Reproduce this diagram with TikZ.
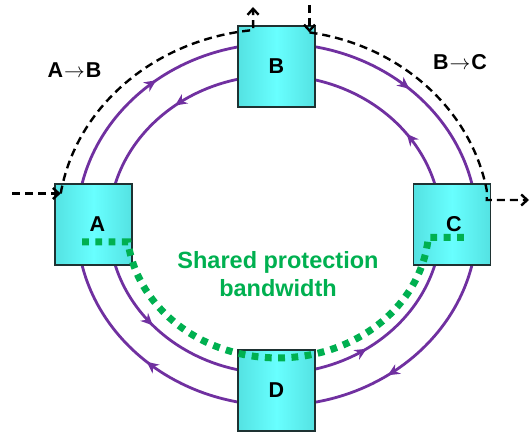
\documentclass[tikz,border=0pt]{standalone}
\usepackage{fontspec}
\setmainfont{Liberation Sans}
\usetikzlibrary{arrows.meta,decorations.markings}

\definecolor{ringpurple}{RGB}{112,48,160}
\definecolor{sharegreen}{RGB}{0,176,80}
\definecolor{boxedge}{RGB}{84,226,226}
\definecolor{boxmid}{RGB}{104,255,255}
\definecolor{boxline}{RGB}{30,50,50}

\tikzset{
  nodebox/.style={draw=boxline, line width=1.3pt, left color=boxedge, right color=boxedge,
    middle color=boxmid, minimum width=77pt, minimum height=81pt, inner sep=0pt,
    font=\fontsize{21.5}{24}\selectfont\bfseries},
  ring/.style={color=ringpurple, line width=2.8pt},
  flow/.style n args={4}{postaction={decorate}, decoration={markings,
    mark=at position #1 with {\arrow{Stealth[length=12pt,width=11pt]}},
    mark=at position #2 with {\arrow{Stealth[length=12pt,width=11pt]}},
    mark=at position #3 with {\arrow{Stealth[length=12pt,width=11pt]}},
    mark=at position #4 with {\arrow{Stealth[length=12pt,width=11pt]}}}},
  lightpath/.style={line width=2.4pt, dash pattern=on 8pt off 5pt,
    -{Straight Barb[length=6pt,width=11pt]}},
  shared/.style={draw=sharegreen, line width=7pt, dash pattern=on 6.8pt off 6.5pt},
  pairlabel/.style={font=\fontsize{21.5}{24}\selectfont\bfseries}
}

\begin{document}
\begin{tikzpicture}[x=1pt, y=1pt]
        \useasboundingbox (0,0) rectangle (530,431);

        % working ring (clockwise) and protection ring (anticlockwise)
        \coordinate (outer) at (277,206.5);
        \coordinate (inner) at (275,206.5);
        \draw[ring, flow={0.153}{0.367}{0.643}{0.869}]
            (outer) ++(200pt,0) arc[start angle=0, end angle=-360, x radius=200pt, y radius=181pt];
        \draw[ring, flow={0.1}{0.357}{0.614}{0.847}]
            (inner) ++(166pt,0) arc[start angle=0, end angle=360, x radius=166pt, y radius=149pt];

        % the four nodes
        \node[nodebox] (A) at (93.5,206.5) {\hspace{8pt}A};
        \node[nodebox] (B) at (276.5,364.5) {B};
        \node[nodebox] (C) at (452,206.5) {\hspace{4pt}C};
        \node[nodebox] (D) at (276.5,40.5) {D};

        % light paths A->B and B->C
        \coordinate (srcA) at (12,237.5);
        \coordinate (ab0)  at (60.7,237.5);
        \coordinate (dstB) at (253,424);
        \coordinate (srcB) at (309.5,426);
        \coordinate (bc0)  at (309.5,398.6);
        \coordinate (bc1)  at (486.7,231);
        \coordinate (dstC) at (529,231);
        \draw[lightpath] (srcA) -- (ab0);
        \draw[lightpath] (ab0) arc[start angle=171, end angle=96, x radius=218pt, y radius=195pt] -- (dstB);
        \draw[lightpath] (srcB) -- (bc0);
        \draw[lightpath] (bc0) arc[start angle=81, end angle=10, x radius=214pt, y radius=194pt] -- (bc1) -- (dstC);

        \node[pairlabel] (lab) at (74.5,361) {A\kern1pt$\rightarrow$\kern1pt B};
        \node[pairlabel] (lbc) at (460,369) {B\kern1pt$\rightarrow$\kern1pt C};

        % shared protection bandwidth
        \coordinate (grA) at (82,189);
        \coordinate (grC) at (470,193.6);
        \draw[shared] (grA) -- (128,189)
            arc[start angle=187, end angle=355, x radius=151pt, y radius=132pt] -- (grC);
        \node[text=sharegreen, align=center, inner sep=0pt,
              font=\fontsize{23.5}{28}\selectfont\bfseries] (bw) at (278,156.5)
            {Shared protection\\bandwidth};
\end{tikzpicture}
\end{document}
